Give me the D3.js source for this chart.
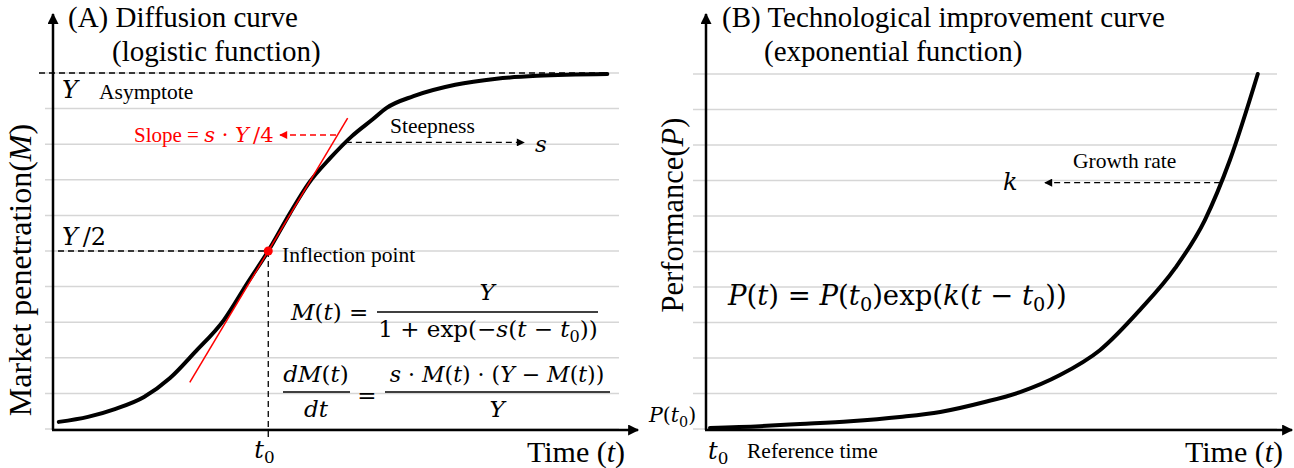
<!DOCTYPE html>
<html>
<head>
<meta charset="utf-8">
<script src="https://cdn.jsdelivr.net/npm/d3@7"></script>
<style>
  body { margin: 0; background: #fff; }
  text { font-family: "Liberation Serif", "Times New Roman", serif; fill: #000; }
  .math { font-family: "DejaVu Serif", serif; }
</style>
</head>
<body>
<svg id="chart"></svg>
<script>
// values (grid units, time units)
var gridLevels = [0, 1, 2, 3, 4, 5, 6, 7, 8, 9, 10];

var logisticTime = [-4.67, -4.02, -3.42, -2.77, -2.19, -1.64, -0.99, -0.44, 0, 0.48, 0.90, 1.39, 1.86, 2.33, 2.64, 3.24, 4.17, 5.09, 6.00, 7.56];
var logisticM    = [0.20, 0.34, 0.56, 0.90, 1.43, 2.15, 3.06, 4.15, 5.0, 6.05, 6.9, 7.62, 8.22, 8.70, 9.02, 9.35, 9.67, 9.84, 9.92, 9.97];

var tangentTime = [-1.75, 1.77];
var tangentM    = [1.31, 8.73];

var asymptote = 10;
var inflection = [0, 5];
var steepnessAt = [1.73, 8.05];

var expTime = [0.07, 0.95, 1.65, 2.53, 3.40, 4.11, 4.89, 5.51, 6.21, 6.91, 7.61, 8.23, 8.75, 9.19, 9.68];
var expP    = [0.03, 0.08, 0.14, 0.22, 0.34, 0.48, 0.76, 1.04, 1.52, 2.22, 3.35, 4.53, 5.88, 7.57, 10.0];

var growthAt = [9.02, 6.94];

var width = 1294, height = 468;
var svg = d3.select("#chart").attr("width", width).attr("height", height);

var defs = svg.append("defs");
function marker(id, color, w, h) {
  defs.append("marker")
      .attr("id", id)
      .attr("viewBox", "0 0 10 10")
      .attr("refX", 9).attr("refY", 5)
      .attr("markerWidth", w).attr("markerHeight", h)
      .attr("markerUnits", "userSpaceOnUse")
      .attr("orient", "auto")
    .append("path")
      .attr("d", "M0,0L10,5L0,10Z")
      .attr("fill", color);
}
marker("ab", "#000", 10, 8);
marker("ar", "#f00", 10, 8);
marker("axh", "#000", 14, 11);

// rich text: parts = [[string, style]], style: "" normal, "i" italic, "s" subscript, "m" math font
function rich(g, x, y, size, parts, opts) {
  opts = opts || {};
  var t = g.append("text")
      .attr("x", x).attr("y", y)
      .attr("font-size", size)
      .attr("text-anchor", opts.anchor || "start");
  if (opts.cls) t.attr("class", opts.cls);
  if (opts.fill) t.style("fill", opts.fill);
  if (opts.rotate) t.attr("transform", "rotate(" + opts.rotate + "," + x + "," + y + ")");
  var down = false;
  parts.forEach(function(p) {
    var s = t.append("tspan").text(p[0]);
    if (opts.fill) s.style("fill", opts.fill);
    if (p[1].indexOf("i") >= 0) s.attr("font-style", "italic");
    if (p[1].indexOf("m") >= 0) s.attr("class", "math");
    if (p[1].indexOf("s") >= 0) {
      s.attr("font-size", size * 0.7);
      if (!down) { s.attr("dy", size * 0.22); down = true; }
    } else if (down) {
      s.attr("dy", -size * 0.22); down = false;
    }
  });
  return t;
}

function panel(ys, axisX0, gridX0, gridX1, xEnd) {
  var g = svg.append("g");
  g.selectAll("line.grid")
    .data(gridLevels)
    .enter().append("line")
      .attr("class", "grid")
      .attr("x1", gridX0).attr("x2", gridX1)
      .attr("y1", function(d) { return ys(d); })
      .attr("y2", function(d) { return ys(d); })
      .attr("stroke", "#d6d6d6").attr("stroke-width", 1.5);
  // axes
  g.append("line")
      .attr("x1", axisX0).attr("x2", axisX0)
      .attr("y1", ys(0) + 1).attr("y2", 14)
      .attr("stroke", "#000").attr("stroke-width", 2.5)
      .attr("marker-end", "url(#axh)");
  g.append("line")
      .attr("x1", axisX0 - 1).attr("x2", xEnd)
      .attr("y1", ys(0) + 1).attr("y2", ys(0) + 1)
      .attr("stroke", "#000").attr("stroke-width", 2.5)
      .attr("marker-end", "url(#axh)");
  return g;
}

function dashed(g, x1, y1, x2, y2, color, mark) {
  var l = g.append("line")
      .attr("x1", x1).attr("y1", y1).attr("x2", x2).attr("y2", y2)
      .attr("stroke", color).attr("stroke-width", 1.3).attr("stroke-dasharray", "6,4");
  if (mark) l.attr("marker-end", "url(#" + mark + ")");
  return l;
}

var smallSize = 21.5;

// ---------- (A) logistic ----------
var xL = d3.scaleLinear().domain([-4.8, 8.2]).range([53, 636]);
var yL = d3.scaleLinear().domain([0, 10]).range([429, 73]);
var gA = panel(yL, 53, 45, 619, 638);

dashed(gA, 39, yL(asymptote), 609, yL(asymptote), "#000");
dashed(gA, 58, yL(inflection[1]), xL(inflection[0]), yL(inflection[1]), "#000");
dashed(gA, xL(inflection[0]), yL(inflection[1]), xL(inflection[0]), 440, "#000");

var lineA = d3.line()
    .x(function(d, i) { return xL(logisticTime[i]); })
    .y(function(d) { return yL(d); })
    .curve(d3.curveMonotoneX);
gA.append("path")
    .attr("d", lineA(logisticM))
    .attr("fill", "none").attr("stroke", "#000").attr("stroke-width", 4)
    .attr("stroke-linejoin", "round").attr("stroke-linecap", "round");

gA.append("line")
    .attr("x1", xL(tangentTime[0])).attr("y1", yL(tangentM[0]))
    .attr("x2", xL(tangentTime[1])).attr("y2", yL(tangentM[1]))
    .attr("stroke", "#f00").attr("stroke-width", 1.5);

gA.append("circle")
    .attr("cx", xL(inflection[0])).attr("cy", yL(inflection[1]))
    .attr("r", 4.5).attr("fill", "#f00");

dashed(gA, xL(steepnessAt[0]), yL(steepnessAt[1]), 524, yL(steepnessAt[1]), "#000", "ab");
dashed(gA, 336, 135, 280, 135, "#f00", "ar");

// texts A
rich(gA, 68, 27, 29, [["(A) Diffusion curve", ""]]);
rich(gA, 112, 61, 29, [["(logistic function)", ""]]);
rich(gA, 31, 270, 32, [["Market penetration", ""], ["(", ""], ["M", "i"], [")", ""]], {anchor: "middle", rotate: -90});
rich(gA, 62, 98, 24, [["Y", "i"]], {cls: "math"});
rich(gA, 99, 99, smallSize, [["Asymptote", ""]]);
rich(gA, 134, 142, 21, [["Slope = ", ""], ["s", "im"], [" · ", "m"], ["Y", "im"], ["\u2009/4", "m"]], {fill: "#f00"});
rich(gA, 390, 133, smallSize, [["Steepness", ""]]);
rich(gA, 535, 152, 23, [["s", "i"]], {cls: "math"});
rich(gA, 62, 245, 24, [["Y", "i"], ["\u2009/2", ""]], {cls: "math"});
rich(gA, 282, 262, smallSize, [["Inflection point", ""]]);

// formula M(t)
rich(gA, 291, 320, 23, [["M", "i"], ["(", ""], ["t", "i"], [") =", ""]], {cls: "math"});
gA.append("line").attr("x1", 377).attr("x2", 598).attr("y1", 312).attr("y2", 312)
    .attr("stroke", "#000").attr("stroke-width", 1.5);
rich(gA, 487, 300, 23, [["Y", "i"]], {cls: "math", anchor: "middle"});
rich(gA, 488, 337, 23, [["1 + exp(−", ""], ["s", "i"], ["(", ""], ["t", "i"], [" − ", ""], ["t", "i"], ["0", "s"], ["))", ""]], {cls: "math", anchor: "middle"});

// formula dM/dt
gA.append("line").attr("x1", 283).attr("x2", 350).attr("y1", 392).attr("y2", 392)
    .attr("stroke", "#000").attr("stroke-width", 1.5);
rich(gA, 316, 382, 23, [["dM", "i"], ["(", ""], ["t", "i"], [")", ""]], {cls: "math", anchor: "middle"});
rich(gA, 316, 417, 23, [["dt", "i"]], {cls: "math", anchor: "middle"});
rich(gA, 367, 403, 23, [["=", ""]], {cls: "math", anchor: "middle"});
gA.append("line").attr("x1", 385).attr("x2", 610).attr("y1", 392).attr("y2", 392)
    .attr("stroke", "#000").attr("stroke-width", 1.5);
rich(gA, 497, 382, 22, [["s", "i"], [" · ", ""], ["M", "i"], ["(", ""], ["t", "i"], [") · (", ""], ["Y", "i"], [" − ", ""], ["M", "i"], ["(", ""], ["t", "i"], ["))", ""]], {cls: "math", anchor: "middle"});
rich(gA, 497, 417, 23, [["Y", "i"]], {cls: "math", anchor: "middle"});

rich(gA, xL(inflection[0]) - 14, 458, 24, [["t", "i"], ["0", "s"]], {cls: "math"});
rich(gA, 527, 462, 30, [["Time (", ""], ["t", "i"], [")", ""]]);

// ---------- (B) exponential ----------
var xR = d3.scaleLinear().domain([0, 10]).range([706, 1276]);
var yR = d3.scaleLinear().domain([0, 10]).range([429, 74]);
var gB = panel(yR, 706, 693, 1277, 1292);

var lineB = d3.line()
    .x(function(d, i) { return xR(expTime[i]); })
    .y(function(d) { return yR(d); })
    .curve(d3.curveMonotoneX);
gB.append("path")
    .attr("d", lineB(expP))
    .attr("fill", "none").attr("stroke", "#000").attr("stroke-width", 4)
    .attr("stroke-linejoin", "round").attr("stroke-linecap", "round");

dashed(gB, xR(growthAt[0]), yR(growthAt[1]), 1045, yR(growthAt[1]), "#000", "ab");

rich(gB, 722, 27, 29, [["(B) Technological improvement curve", ""]]);
rich(gB, 764, 61, 29, [["(exponential function)", ""]]);
rich(gB, 683, 215, 30.5, [["Performance", ""], ["(", ""], ["P", "i"], [")", ""]], {anchor: "middle", rotate: -90});
rich(gB, 1073, 168, smallSize, [["Growth rate", ""]]);
rich(gB, 1003, 190, 24, [["k", "i"]], {cls: "math"});
rich(gB, 728, 305, 27.5, [["P", "i"], ["(", ""], ["t", "i"], [") = ", ""], ["P", "i"], ["(", ""], ["t", "i"], ["0", "s"], [")exp(", ""], ["k", "i"], ["(", ""], ["t", "i"], [" − ", ""], ["t", "i"], ["0", "s"], ["))", ""]], {cls: "math"});
rich(gB, 649, 422, 20.5, [["P", "i"], ["(", ""], ["t", "i"], ["0", "s"], [")", ""]], {cls: "math"});
rich(gB, 708, 459, 24, [["t", "i"], ["0", "s"]], {cls: "math"});
rich(gB, 747, 458, smallSize, [["Reference time", ""]]);
rich(gB, 1185, 462, 30, [["Time (", ""], ["t", "i"], [")", ""]]);
</script>
</body>
</html>
